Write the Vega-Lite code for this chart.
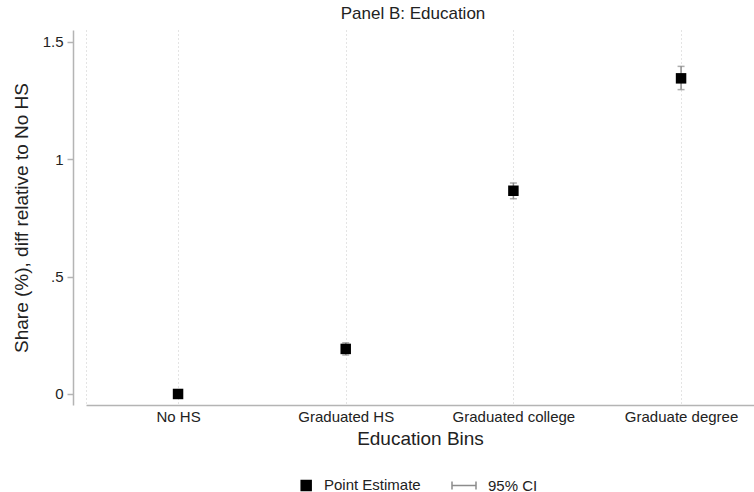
{
  "$schema": "https://vega.github.io/schema/vega-lite/v6.json",
  "width": 668,
  "height": 375,
  "autosize": {"type": "none"},
  "padding": {"left": 86, "top": 30, "right": 0, "bottom": 87},
  "background": "white",
  "config": {"font": "Liberation Sans", "view": {"stroke": null}},
  "title": {"text": "Panel B: Education", "fontSize": 17, "fontWeight": "normal", "color": "#222", "anchor": "middle", "offset": 7, "dx": -7},
  "data": {"values": [
    {"edu": "No HS", "rank": 1, "est": 0, "lo": null, "hi": null},
    {"edu": "Graduated HS", "rank": 2, "est": 0.192, "lo": 0.166, "hi": 0.218},
    {"edu": "Graduated college", "rank": 3, "est": 0.866, "lo": 0.832, "hi": 0.899},
    {"edu": "Graduate degree", "rank": 4, "est": 1.345, "lo": 1.297, "hi": 1.396}
  ]},
  "encoding": {
    "x": {
      "field": "rank", "type": "quantitative",
      "scale": {"domain": [0.451, 4.435], "nice": false, "zero": false},
      "axis": {
        "values": [0.451, 1, 2, 3, 4],
        "labelExpr": "datum.value == 1 ? 'No HS' : datum.value == 2 ? 'Graduated HS' : datum.value == 3 ? 'Graduated college' : datum.value == 4 ? 'Graduate degree' : ''",
        "grid": true, "gridDash": [1, 3], "gridColor": "#c8c8c8", "gridWidth": 1,
        "ticks": false, "domainColor": "#b4b4b4", "domainWidth": 1.5,
        "labelPadding": 4, "labelFontSize": 15, "labelColor": "#222",
        "title": "Education Bins", "titleFontSize": 19, "titleFontWeight": "normal", "titleColor": "#222", "titlePadding": 5
      }
    }
  },
  "layer": [
    {
      "mark": {"type": "rule", "strokeWidth": 1.5},
      "encoding": {
        "y": {
          "field": "lo", "type": "quantitative",
          "scale": {"domain": [-0.047, 1.551], "nice": false, "zero": false},
          "axis": {
            "values": [0, 0.5, 1, 1.5], "offset": 13,
            "labelExpr": "datum.value == 0.5 ? '.5' : datum.value == 1.5 ? '1.5' : datum.value == 1 ? '1' : '0'",
            "grid": false, "tickSize": 6, "tickColor": "#b4b4b4", "domainColor": "#b4b4b4", "domainWidth": 1.5, "tickWidth": 1.5,
            "labelPadding": 4, "labelFontSize": 15, "labelColor": "#222",
            "title": "Share (%), diff relative to No HS", "titleFontSize": 19, "titleFontWeight": "normal", "titleColor": "#222", "titlePadding": 11
          }
        },
        "y2": {"field": "hi"},
        "color": {
          "datum": "95% CI",
          "scale": {"domain": ["Point Estimate", "95% CI"], "range": ["black", "#8c8c8c"]},
          "legend": {
            "title": null, "orient": "none", "direction": "horizontal",
            "legendX": 201, "legendY": 442, "padding": 0,
            "symbolSize": 576, "labelFontSize": 15, "labelColor": "#222",
            "labelOffset": 11, "columnPadding": 28,
            "encode": {"symbols": {"update": {
              "shape": {"signal": "datum.value === '95% CI' ? 'M-1,0H1M-1,-0.33V0.33M1,-0.33V0.33' : 'M0.1,-0.42H0.93V0.42H0.1Z'"},
              "fill": {"signal": "datum.value === '95% CI' ? 'transparent' : 'black'"},
              "stroke": {"signal": "datum.value === '95% CI' ? '#8c8c8c' : 'transparent'"},
              "strokeWidth": {"value": 1.5},
              "opacity": {"value": 1}
            }}}
          }
        }
      }
    },
    {
      "mark": {"type": "tick", "orient": "horizontal", "size": 7, "thickness": 1.5},
      "encoding": {
        "y": {"field": "lo", "type": "quantitative"},
        "color": {"datum": "95% CI"}
      }
    },
    {
      "mark": {"type": "tick", "orient": "horizontal", "size": 7, "thickness": 1.5},
      "encoding": {
        "y": {"field": "hi", "type": "quantitative"},
        "color": {"datum": "95% CI"}
      }
    },
    {
      "mark": {"type": "point", "shape": "square", "filled": true, "size": 110, "opacity": 1},
      "encoding": {
        "y": {"field": "est", "type": "quantitative"},
        "color": {"datum": "Point Estimate"}
      }
    }
  ]
}
